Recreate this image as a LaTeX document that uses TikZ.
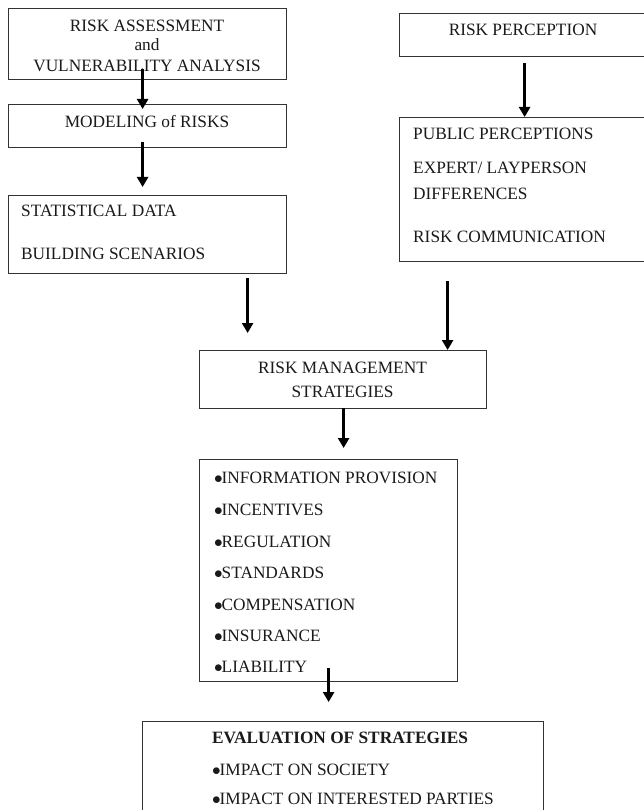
\documentclass[tikz,border=0pt]{standalone}
\usepackage{fontspec}
\setmainfont{Liberation Serif}
\usetikzlibrary{arrows.meta}
\definecolor{boxgray}{HTML}{333333}
\definecolor{txt}{HTML}{1A1A1A}
\newcommand{\fsz}{\fontsize{17.3}{20}\selectfont}
\newcommand{\bul}{\makebox[7.5pt][l]{$\bullet$}}
\begin{document}
\begin{tikzpicture}[x=1pt,y=-1pt,
  box/.style={draw=boxgray, line width=1.2pt, inner sep=0pt, anchor=north west},
  arr/.style={line width=2.9pt, draw=black, -{Triangle[width=11pt,length=10pt]}},
  lbl/.style={inner sep=0pt, anchor=base west, font=\fsz, text=txt},
  clbl/.style={inner sep=0pt, anchor=base, font=\fsz, text=txt}]
\clip (0,0) rectangle (644,810);
\fill[white] (0,0) rectangle (644,810);
% boxes
\node[box, minimum width=278pt, minimum height=71pt] (A) at (8,8) {};
\node[box, minimum width=278pt, minimum height=43pt] (B) at (8,104) {};
\node[box, minimum width=278pt, minimum height=78pt] (C) at (8,195) {};
\node[box, minimum width=270pt, minimum height=43pt] (RP) at (399,13) {};
\node[box, minimum width=270pt, minimum height=144pt] (PP) at (399,117) {};
\node[box, minimum width=287pt, minimum height=58pt] (RM) at (199,350) {};
\node[box, minimum width=258pt, minimum height=222pt] (BL) at (199,459) {};
\node[box, minimum width=401pt, minimum height=120pt] (EV) at (142,721) {};
% texts
\node[clbl] (a1) at (147,32) {RISK ASSESSMENT};
\node[clbl] (a2) at (147,51) {and};
\node[clbl] (a3) at (147,72) {VULNERABILITY ANALYSIS};
\node[clbl] (b1) at (147,128) {MODELING of RISKS};
\node[lbl] (c1) at (21,217) {STATISTICAL DATA};
\node[lbl] (c2) at (21,259) {BUILDING SCENARIOS};
\node[clbl] (rp1) at (523,36) {RISK PERCEPTION};
\node[lbl] (pp1) at (413,140) {PUBLIC PERCEPTIONS};
\node[lbl] (pp2) at (413,174) {EXPERT/ LAYPERSON};
\node[lbl] (pp3) at (413,200) {DIFFERENCES};
\node[lbl] (pp4) at (413,242) {RISK COMMUNICATION};
\node[clbl] (rm1) at (342.5,373) {RISK MANAGEMENT};
\node[clbl] (rm2) at (342.5,397) {STRATEGIES};
\node[lbl] (bl1) at (214,483) {\bul INFORMATION PROVISION};
\node[lbl] (bl2) at (214,515) {\bul INCENTIVES};
\node[lbl] (bl3) at (214,547) {\bul REGULATION};
\node[lbl] (bl4) at (214,578) {\bul STANDARDS};
\node[lbl] (bl5) at (214,610) {\bul COMPENSATION};
\node[lbl] (bl6) at (214,641) {\bul INSURANCE};
\node[lbl] (bl7) at (214,672) {\bul LIABILITY};
\node[lbl, font=\fsz\bfseries] (ev1) at (212,743) {EVALUATION OF STRATEGIES};
\node[lbl] (ev2) at (212,775) {\bul IMPACT ON SOCIETY};
\node[lbl] (ev3) at (212,804) {\bul IMPACT ON INTERESTED PARTIES};
% arrows
\draw[arr] ([xshift=-5pt,yshift=11pt]A.south) -- ([xshift=-5pt,yshift=-5pt]B.north);
\draw[arr] ([xshift=-5pt,yshift=6pt]B.south) -- ([xshift=-5pt,yshift=8pt]C.north);
\draw[arr] ([xshift=100pt,yshift=-4pt]C.south) -- ([xshift=-95.5pt,yshift=17pt]RM.north);
\draw[arr] ([xshift=-87pt,yshift=-19pt]PP.south) -- ([xshift=104.5pt]RM.north);
\draw[arr] ([xshift=-10pt,yshift=-6pt]RP.south) -- ([xshift=-10pt]PP.north);
\draw[arr] ([xshift=0.5pt,yshift=1pt]RM.south) -- ([xshift=15pt,yshift=11pt]BL.north);
\draw[arr] ([yshift=14pt]BL.south) -- ([xshift=-14.5pt,yshift=19pt]EV.north);
\end{tikzpicture}
\end{document}
